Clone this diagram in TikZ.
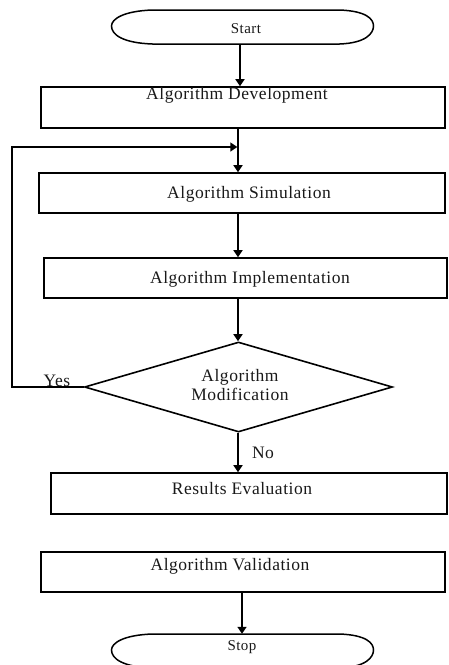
\documentclass[tikz,border=0pt]{standalone}
\usepackage{fontspec}
\setmainfont{Liberation Serif}[LetterSpace=3]
\usetikzlibrary{arrows.meta,shapes.geometric}
\tikzset{
  box/.style={draw, line width=1.6pt, rectangle, inner sep=0pt},
  termbox/.style={rectangle, inner sep=0pt, minimum width=262pt, minimum height=34pt},
  termpic/.pic={\draw[line width=1.5pt] (-90,-17) -- (97,-17)
      .. controls (124,-16) and (131,-8) .. (131,-1)
      .. controls (131,6) and (124,16) .. (97,17) -- (-90,17)
      .. controls (-119,16) and (-131,8) .. (-131,-1)
      .. controls (-131,-8) and (-119,-16) .. cycle;},
  dec/.style={draw, line width=1.6pt, diamond, inner sep=0pt},
  txt/.style={inner sep=0pt, font=\fontsize{17.5}{20}\selectfont, text=black!90},
  ttxt/.style={inner sep=0pt, font=\fontsize{15}{17}\selectfont, text=black!90},
  arr/.style={line width=1.6pt, -{Triangle[length=7pt,width=9pt]}}
}
\begin{document}
\begin{tikzpicture}[x=1pt,y=-1pt]
\useasboundingbox (0,0) rectangle (448,665);
% terminals
\pic at (242.5,27) {termpic};
\node[termbox] (start) at (242.5,27) {};
\node[ttxt] (startt) at (246,29) {Start};
\pic at (242.5,651) {termpic};
\node[termbox] (stop) at (242.5,651) {};
\node[ttxt] (stopt) at (242,647) {Stop};
% boxes
\node[box, minimum width=404pt, minimum height=41pt] (dev) at (243,107.5) {};
\node[txt] (devt) at (237,95) {Algorithm Development};
\node[box, minimum width=406pt, minimum height=40pt] (sim) at (242,193) {};
\node[txt] (simt) at (249,194) {Algorithm Simulation};
\node[box, minimum width=403pt, minimum height=40pt] (imp) at (245.5,278) {};
\node[txt] (impt) at (250,279) {Algorithm Implementation};
\node[dec, minimum width=308pt, minimum height=90pt] (dia) at (238.5,387) {};
\node[txt, align=center] (diat) at (240,385.5) {Algorithm\\[-1pt]Modification};
\node[box, minimum width=396pt, minimum height=41pt] (res) at (249,493.5) {};
\node[txt] (rest) at (242,489) {Results Evaluation};
\node[box, minimum width=404pt, minimum height=40pt] (val) at (243,572) {};
\node[txt] (valt) at (230,566) {Algorithm Validation};
\node[txt] (yes) at (57,381) {Yes};
\node[txt] (no) at (263,453) {No};
% helper coordinates
\coordinate (ax) at (238,0);
\coordinate (ax2) at (242,0);
\coordinate (ax0) at (240,0);
\coordinate (lp) at (12,147);
\coordinate (jn) at (237.3,147);
% connectors
\draw[arr] (start.south -| ax0) -- (dev.north -| ax0);
\draw[arr] (dev.south -| ax) -- (sim.north -| ax);
\draw[arr] (sim.south -| ax) -- (imp.north -| ax);
\draw[arr] (imp.south -| ax) -- (dia.north -| ax);
\draw[arr] (dia.south -| ax) -- (res.north -| ax);
\draw[arr] (val.south -| ax2) -- (stop.north -| ax2);
\draw[arr] (dia.west) -- (dia.west -| lp) -- (lp) -- (jn);
\end{tikzpicture}
\end{document}
